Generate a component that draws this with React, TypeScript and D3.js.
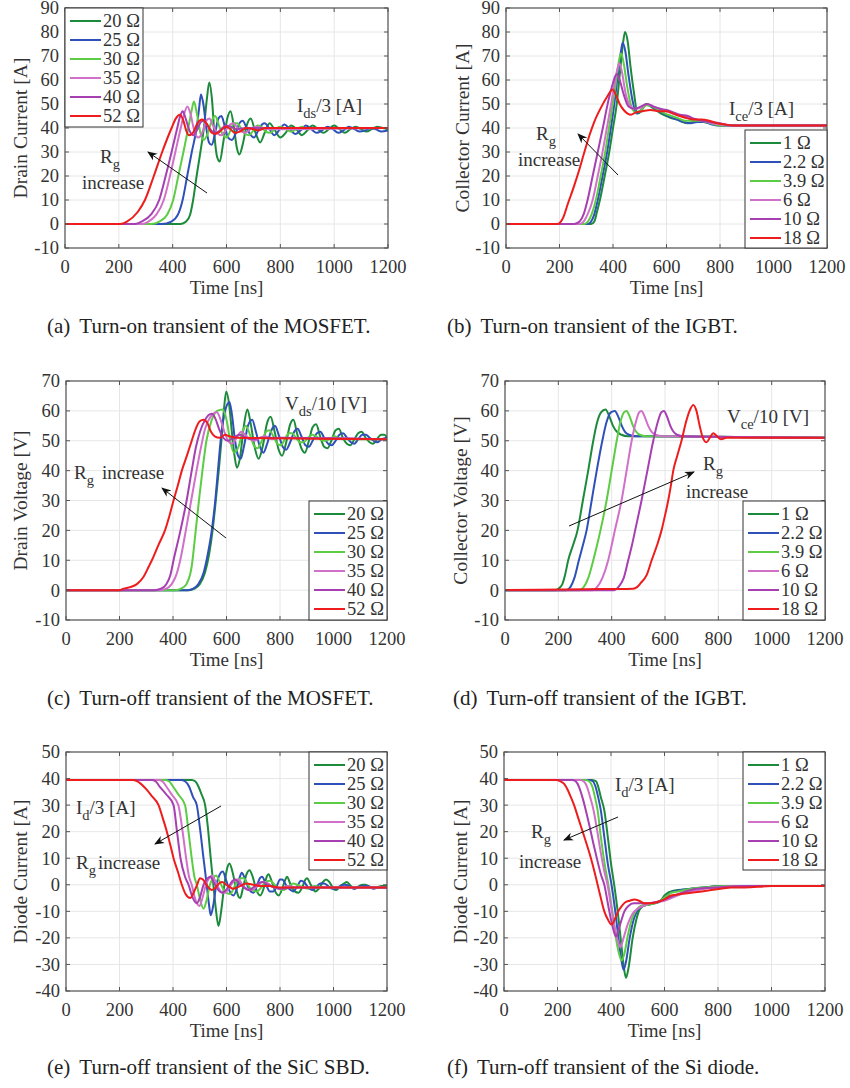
import React from "react";
import * as d3 from "d3";

type Pt = [number, number];

// ---- shared labels / ticks ----
const COLORS = ["#1b8a3a", "#2f50b8", "#5ccc45", "#d070c8", "#a63fb0", "#ee1c1c"];
const mosfetLabels = ["20 Ω", "25 Ω", "30 Ω", "35 Ω", "40 Ω", "52 Ω"];
const igbtLabels = ["1 Ω", "2.2 Ω", "3.9 Ω", "6 Ω", "10 Ω", "18 Ω"];
const timeTicks = [0, 200, 400, 600, 800, 1000, 1200];
const ticksTurnOnCurrent = [-10, 0, 10, 20, 30, 40, 50, 60, 70, 80, 90];
const ticksVoltage = [-10, 0, 10, 20, 30, 40, 50, 60, 70];
const ticksDiode = [-40, -30, -20, -10, 0, 10, 20, 30, 40, 50];

// ---- (a) MOSFET turn-on, Ids/3 ----
const a20: Pt[] = [[0,0],[430,0],[450,1],[465,4],[476,10],[489,20],[503,30],[516,40],[527,52],[536,59],[546,52],[556,36],[565,28],[575,26],[588,34],[603,44],[615,47],[628,40],[638,32],[648,29],[660,33],[675,41],[690,44],[708,38],[725,34],[742,38],[760,42],[780,39],[800,36],[820,38],[840,41],[860,39.5],[880,37],[900,39],[920,41],[940,39.5],[960,38],[980,39.5],[1000,41],[1020,39.5],[1040,38],[1060,39.5],[1080,40.5],[1100,39.5],[1120,38.5],[1140,39.5],[1160,40.5],[1180,40],[1200,39.5]];
const a25: Pt[] = [[0,0],[360,0],[395,1],[420,4],[437,10],[454,20],[471,30],[489,40],[498,48],[505,54],[514,50],[525,40],[535,34],[545,33],[558,38],[570,44],[581,45],[593,41],[606,36],[620,35],[635,38],[648,42],[660,43],[675,40],[690,37],[702,36],[718,39],[732,41.5],[742,42],[760,39.5],[778,37],[795,39],[815,41.5],[835,39.5],[855,37.5],[875,39],[895,41],[915,39.5],[935,38],[955,39],[975,40.5],[995,39.5],[1015,38],[1035,39],[1055,40.5],[1075,39.5],[1095,38.5],[1115,39],[1135,40],[1155,39.5],[1175,38.5],[1200,39]];
const a30: Pt[] = [[0,0],[320,0],[350,1],[380,4],[402,10],[421,20],[440,30],[458,40],[470,47],[479,51],[490,46],[503,38],[515,35],[528,37],[545,43],[558,45],[572,41],[588,37],[600,36],[615,39],[628,42],[640,42],[656,39.5],[670,37.5],[684,37],[700,39],[715,41],[730,40.5],[745,38.5],[762,38],[780,39.5],[800,40.5],[820,39.5],[840,38.5],[860,39.5],[880,40.5],[900,39.5],[1000,40],[1200,40]];
const a35: Pt[] = [[0,0],[285,0],[310,1],[340,4],[367,10],[390,20],[410,30],[430,40],[443,46],[455,49],[466,46],[480,39],[495,36],[510,38],[525,43],[536,44],[550,41],[565,38],[581,37],[600,39.5],[615,41.5],[625,42],[645,39.5],[668,38],[690,39.5],[710,40.5],[730,40],[760,39.5],[1200,40]];
const a40: Pt[] = [[0,0],[260,0],[285,1],[320,4],[350,10],[374,20],[396,30],[417,40],[428,45],[437,47],[448,44],[462,39],[476,37],[492,39.5],[505,42.5],[516,43],[530,41],[548,38.5],[563,38],[580,39.5],[598,41],[615,40.5],[640,39.5],[670,40],[1200,40]];
const a52: Pt[] = [[0,0],[205,0],[230,1],[270,5],[297,10],[330,20],[361,30],[396,40],[412,44],[427,45.5],[440,43],[450,39],[460,37],[475,38],[492,42],[510,43.5],[528,41.5],[545,38],[557,37.5],[575,38.5],[590,40],[600,40.5],[615,39.5],[631,38],[650,38.5],[674,40],[700,39.5],[720,39],[745,40],[800,40],[1200,40]];

// ---- (b) IGBT turn-on, Ice/3 ----
const b1: Pt[] = [[0,0],[318,0],[330,1],[340,5],[351,10],[369,20],[386,30],[400,40],[414,50],[425,62],[437,75],[445,80],[455,76],[465,66],[478,55],[492,46],[505,47],[523,50],[540,49],[560,47.5],[580,46],[600,45],[620,44],[640,43.5],[660,42.5],[680,42],[700,42.5],[720,43],[740,42.5],[760,42],[780,41.5],[800,41],[1200,41]];
const b22: Pt[] = [[0,0],[305,0],[318,1],[330,4],[343,10],[361,20],[378,30],[392,40],[405,50],[418,62],[430,72],[436,75.5],[446,72],[458,62],[472,52],[488,46],[505,47.5],[525,50],[545,49],[565,47.5],[590,46],[615,44.5],[640,43.5],[665,42.5],[690,42],[715,42.5],[740,42.5],[770,41.5],[800,41],[1200,41]];
const b39: Pt[] = [[0,0],[293,0],[306,1],[320,4],[336,10],[354,20],[371,30],[385,40],[399,50],[412,60],[424,69],[430,71],[440,67],[452,58],[466,50],[484,46.5],[505,47.5],[525,49.5],[545,49],[570,47.5],[595,46],[620,45],[645,44],[670,43],[695,43],[720,43],[750,42.5],[780,41.5],[810,41],[1200,41]];
const b6: Pt[] = [[0,0],[274,0],[290,1],[305,4],[324,10],[343,20],[361,30],[377,40],[393,50],[408,60],[420,66],[424,67],[434,63],[446,55],[460,50],[480,48],[505,48.5],[528,50],[550,49],[575,48],[600,47],[625,46],[650,45],[680,44.5],[710,43.5],[740,43],[770,42],[800,41.5],[830,41],[1200,41]];
const b10: Pt[] = [[0,0],[255,0],[275,1],[290,4],[305,10],[324,20],[343,30],[362,40],[380,50],[398,58],[410,62],[415,62.5],[425,60],[440,54],[458,49],[480,48],[505,49],[528,50],[550,49],[575,48],[600,47.5],[625,46.5],[650,45.5],[680,45],[700,44],[730,43],[760,42.5],[800,42],[840,41],[1200,41]];
const b18: Pt[] = [[0,0],[193,0],[205,1],[215,3],[230,8],[255,16],[275,23],[293,30],[312,37],[330,42.6],[355,48.5],[378,53],[399,56],[410,54],[425,50],[440,47.5],[455,46],[467,45.5],[485,46.5],[510,47],[540,47.5],[570,47],[600,47],[625,46],[650,45],[680,44],[700,43.5],[730,43.5],[760,43],[790,42],[820,41.5],[850,41],[1200,41]];

// ---- (c) MOSFET turn-off, Vds/10 ----
const c20: Pt[] = [[0,0],[460,0],[480,0.5],[500,2],[520,6],[535,12],[548,20],[560,30],[571,40],[581,50],[590,60],[599,66.5],[610,62],[620,53],[630,45],[639,41],[650,44],[665,55],[678,60.5],[690,56],[705,48],[720,44],[735,48],[752,56],[765,58],[780,53],[795,47],[808,45],[822,49],[838,55.5],[850,57],[865,52],[880,47.5],[893,46],[908,50],[922,54.5],[935,55.5],[950,51.5],[965,48],[978,47.5],[992,50],[1008,53.5],[1020,54],[1035,51],[1050,49],[1063,48.5],[1078,50.5],[1092,52.5],[1105,53],[1120,51],[1135,49.5],[1148,49],[1162,50.5],[1178,52],[1190,52],[1200,51]];
const c25: Pt[] = [[0,0],[455,0],[475,0.5],[495,2],[515,6],[530,12],[545,20],[558,30],[568,40],[578,50],[590,58],[602,62],[611,63],[620,59],[632,50],[643,45],[653,44],[665,48],[680,55],[696,57],[710,53],[725,48],[738,46],[752,49],[768,53.5],[781,55],[795,52],[810,48],[823,47],[838,49.5],[853,53],[866,54],[880,51.5],[895,48.5],[908,48],[922,50],[938,52.5],[951,53],[965,51],[980,49],[993,48.5],[1008,50],[1022,52],[1036,52.5],[1050,51],[1065,49.5],[1078,49],[1092,50.5],[1108,52],[1121,52],[1135,51],[1150,50],[1163,49.5],[1180,50.5],[1200,51]];
const c30: Pt[] = [[0,0],[410,0],[430,0.5],[450,2],[470,8],[485,20],[497,30],[510,40],[525,50],[545,57],[565,60],[586,60.5],[600,57],[614,50],[628,46],[645,48],[660,53],[672,55],[688,52],[702,48.5],[716,47.5],[732,50],[748,53],[760,53.5],[775,51.5],[790,49],[803,48.5],[818,50.5],[833,52.5],[845,52.5],[860,51],[875,49.5],[888,49.5],[905,51],[920,52],[935,51.5],[950,50.5],[965,50],[985,50.5],[1005,51.5],[1030,50.5],[1200,50.5]];
const c35: Pt[] = [[0,0],[350,0],[375,0.5],[395,2],[412,5],[427,10],[448,20],[468,30],[488,40],[505,48],[520,54],[540,58],[564,59.5],[578,57],[592,53],[606,50],[620,49],[638,51],[655,53],[670,52],[688,50.5],[705,50],[725,51],[745,51.5],[770,50.5],[800,51],[1200,50.5]];
const c40: Pt[] = [[0,0],[330,0],[355,0.5],[375,2],[390,5],[402,10],[428,20],[451,30],[470,40],[486,48],[501,53],[520,57],[545,59],[558,57.5],[572,54],[588,51],[605,50],[625,51],[650,52],[672,51],[700,50.5],[730,51],[1200,50.5]];
const c52: Pt[] = [[0,0],[200,0],[215,0.5],[240,1],[265,2],[290,4.5],[310,8],[321,10],[345,15],[370,20],[387,25],[402,30],[418,35],[433,40],[452,45],[470,50],[485,54],[500,56.5],[514,57],[528,56],[542,53],[556,51.5],[575,51],[595,52],[610,51.5],[640,51],[1200,50.5]];

// ---- (d) IGBT turn-off, Vce/10 ----
const d1: Pt[] = [[0,0],[190,0],[205,0.8],[215,2],[225,5],[237,10],[255,15],[272,20],[292,30],[312,40],[331,50],[345,56],[360,59.5],[377,60.5],[392,58],[405,55],[420,53],[437,52],[460,51.5],[500,51.5],[1200,51]];
const d22: Pt[] = [[0,0],[230,0],[245,1],[260,4],[277,10],[292,15],[306,20],[325,30],[344,40],[365,50],[380,56],[397,59.5],[412,60],[425,58],[438,55],[450,53],[465,52],[490,51.5],[530,51.5],[1200,51]];
const d39: Pt[] = [[0,0],[280,0],[295,1],[312,4],[331,10],[345,15],[358,20],[381,30],[400,40],[419,50],[432,56],[446,59.5],[456,60],[468,58],[480,55],[492,53],[505,52],[530,51.5],[1200,51]];
const d6: Pt[] = [[0,0],[330,0],[345,1],[365,4],[387,10],[400,15],[412,20],[437,30],[456,40],[475,50],[490,56],[503,59.5],[512,60],[524,58],[537,55],[550,53],[565,52],[590,51.5],[1200,51]];
const d10: Pt[] = [[0,0],[410,0],[425,1],[445,4],[462,10],[476,15],[488,20],[512,30],[534,40],[556,50],[572,56],[586,59.5],[596,60],[608,58],[620,55],[632,53],[645,52],[670,51.5],[1200,51]];
const d18: Pt[] = [[0,0],[300,0.3],[480,0.5],[495,1],[510,2.5],[531,5],[550,10],[570,15],[587,20],[600,25],[612,30],[622,35],[631,40],[646,45],[662,50],[678,56],[692,60],[706,62],[718,60],[730,55],[742,51],[756,49.5],[768,51],[781,52.5],[795,51.5],[810,50.5],[830,51],[1200,51]];

// ---- (e) SiC SBD turn-off, Id/3 ----
const e20: Pt[] = [[0,39.5],[470,39.5],[483,39],[495,37],[507,34],[520,30],[530,22],[541,10],[551,0],[560,-9],[570,-15.5],[580,-10],[592,0],[602,6],[611,8],[622,5],[635,-1],[645,-4.5],[651,-5],[662,-1],[675,4],[686,5.5],[698,3],[712,-2],[726,-4],[740,-1],[750,3],[757,4],[770,1],[782,-2.5],[795,-4],[810,-1],[820,2],[826,3],[840,0],[855,-2.5],[869,-3],[885,-0.5],[895,2],[901,2.5],[915,0],[932,-2.5],[945,-1.5],[960,1],[972,2],[985,1],[1000,-1.5],[1010,-2],[1025,-0.5],[1040,0.5],[1050,1],[1065,-0.5],[1080,-1.5],[1095,-0.5],[1110,0],[1120,0],[1140,-1],[1160,-1],[1180,-0.5],[1200,-0.5]];
const e25: Pt[] = [[0,39.5],[430,39.5],[445,39],[460,37],[475,33],[489,30],[500,22],[514,10],[526,0],[534,-7],[541,-11.5],[550,-8],[562,0],[575,4],[586,5],[598,2],[612,-2.5],[626,-4],[640,-1],[650,3],[657,4.5],[670,2],[686,-2],[701,-3],[715,0],[725,2.5],[733,3],[748,0],[762,-2.5],[775,-2.5],[790,0],[800,2],[808,2],[825,-0.5],[840,-2],[850,-2.5],[865,-0.5],[878,1.5],[890,1],[905,-1],[920,-2],[935,-1],[950,0.5],[965,0.5],[980,-0.5],[995,-1.5],[1010,-1.5],[1025,-0.5],[1040,0],[1060,-0.5],[1075,-1.5],[1090,-1],[1110,-0.5],[1130,-0.5],[1150,-1.5],[1170,-1],[1200,-1]];
const e30: Pt[] = [[0,39.5],[370,39.5],[385,39],[400,37],[420,34],[445,30],[458,20],[470,10],[480,3],[489,0],[500,-5],[514,-9],[525,-6],[538,0],[550,2.5],[561,3.5],[575,1],[590,-2],[600,-3],[614,-3.5],[628,-1],[642,1.5],[655,2.5],[664,2.5],[680,0],[695,-2],[714,-2.5],[730,-1],[745,1],[763,1.5],[780,0],[795,-1.5],[813,-2],[830,-1],[848,0.5],[865,0],[885,-1],[905,-1.5],[930,-0.5],[960,-1],[1000,-1],[1200,-1]];
const e35: Pt[] = [[0,39.5],[345,39.5],[360,39],[375,37],[395,34],[420,30],[436,20],[449,10],[460,3],[470,0],[482,-5],[498,-8],[510,-5],[523,0],[535,2.5],[545,3.5],[560,1],[575,-2],[585,-3],[595,-3],[610,-1],[625,1],[635,2],[645,2],[660,0],[675,-1.5],[695,-2],[715,-0.5],[735,1],[755,0.5],[775,-1],[800,-1.5],[830,-0.5],[860,-1],[900,-1],[1200,-1]];
const e40: Pt[] = [[0,39.5],[320,39.5],[335,39],[350,37],[375,34],[402,30],[415,20],[428,10],[445,3],[458,0],[472,-4.5],[489,-7],[500,-5],[514,0],[526,2],[539,3],[552,1],[566,-1.5],[583,-3],[598,-2],[612,0],[623,1.5],[632,2],[648,0.5],[665,-1],[682,-2],[700,-1],[720,0.5],[735,1],[755,0],[780,-1],[810,-1.5],[850,-1],[1200,-1]];
const e52: Pt[] = [[0,39.5],[250,39.5],[265,39],[280,38],[300,36],[320,33.5],[346,30],[362,25],[377,20],[390,15],[402,10],[418,5],[433,0],[447,-3.5],[464,-5],[477,-3],[490,0],[501,2.5],[512,2],[528,-0.5],[545,-2],[560,-1],[572,0.5],[583,1],[600,0],[626,-1.5],[650,-0.5],[675,0.5],[700,0],[730,-0.5],[760,-0.5],[800,-1],[1200,-1]];

// ---- (f) Si diode turn-off, Id/3 ----
const f1: Pt[] = [[0,39.5],[330,39.5],[344,39],[352,37],[362,33],[375,28],[388,18],[400,8],[412,0],[425,-10],[438,-22],[448,-31],[456,-35],[466,-31],[481,-20],[495,-13],[506,-9.5],[520,-8],[540,-7.5],[560,-7],[575,-6.5],[590,-5.5],[600,-4],[612,-3],[625,-2.5],[650,-2],[700,-1.5],[750,-1],[800,-0.5],[900,-0.5],[1200,-0.5]];
const f22: Pt[] = [[0,39.5],[318,39.5],[332,39],[342,37],[352,33],[362,28],[375,18],[388,8],[402,0],[416,-10],[430,-22],[440,-29],[447,-32],[456,-29],[470,-20],[485,-13],[500,-9.5],[515,-8],[540,-7.5],[560,-7],[580,-6.5],[600,-5],[615,-3.5],[630,-2.5],[660,-2],[700,-1.5],[750,-1],[850,-0.5],[1200,-0.5]];
const f39: Pt[] = [[0,39.5],[305,39.5],[318,39],[330,37],[340,33],[350,28],[362,18],[376,8],[390,0],[405,-10],[420,-21],[433,-27],[440,-28.5],[450,-26],[463,-19],[478,-13],[495,-9.5],[512,-8],[540,-7.5],[565,-7],[585,-6],[605,-4.5],[625,-3],[650,-2.5],[700,-1.5],[750,-1],[850,-0.5],[1200,-0.5]];
const f6: Pt[] = [[0,39.5],[285,39.5],[298,39],[310,37],[322,33],[335,28],[349,20],[362,12],[375,5],[387,0],[400,-8],[412,-15],[425,-21],[435,-23.5],[447,-20],[462,-15],[480,-11],[500,-9],[520,-8],[545,-7],[570,-6.5],[600,-6],[625,-5],[650,-4],[675,-3],[700,-2.5],[750,-1.5],[800,-1],[900,-0.5],[1200,-0.5]];
const f10: Pt[] = [[0,39.5],[255,39.5],[268,39],[280,37],[293,33],[306,28],[320,22],[333,16],[347,10],[362,4],[375,0],[390,-8],[402,-14],[412,-18],[419,-19.5],[428,-17],[437,-14],[450,-10],[465,-8],[485,-7],[510,-7],[540,-7],[570,-6.5],[600,-5.5],[625,-4.5],[650,-3.5],[680,-2.5],[720,-1.5],[800,-1],[900,-0.5],[1200,-0.5]];
const f18: Pt[] = [[0,39.5],[195,39.5],[210,39],[225,38],[237,36],[250,33],[262,30],[278,25],[294,20],[310,15],[325,10],[338,5],[350,0],[362,-5],[375,-10],[388,-13],[402,-15],[414,-13],[427,-10],[440,-8],[455,-6.5],[470,-6],[487,-5.5],[505,-6],[525,-7],[545,-7],[575,-6.5],[600,-5.5],[625,-4],[660,-3.5],[700,-3],[740,-2.5],[775,-2],[810,-1.5],[850,-1],[900,-1],[1000,-0.5],[1200,-0.5]];

const FONT = "Liberation Serif, Tinos, Times New Roman, DejaVu Serif, serif";
const TXT = "#333";
const txt = { fontFamily: FONT };

type PanelProps = {
  id: string;
  box: [number, number, number, number]; // x0, y0, x1, y1
  yDomain: [number, number];
  yTicks: number[];
  yLabel: string;
  yLabelX: number;
  series: Pt[][];
  labels: string[];
  legend: [number, number, number, number];
  children?: React.ReactNode;
};

const Panel = ({ id, box, yDomain, yTicks, yLabel, yLabelX, series, labels, legend, children }: PanelProps) => {
  const [x0, y0, x1, y1] = box;
  const x = d3.scaleLinear().domain([0, 1200]).range([x0, x1]);
  const y = d3.scaleLinear().domain(yDomain).range([y1, y0]);
  const line = d3.line<Pt>().x(d => x(d[0])).y(d => y(d[1])).curve(d3.curveMonotoneX);
  const [lx0, ly0, lx1, ly1] = legend;
  return (
    <g>
      <defs>
        <clipPath id={id}>
          <rect x={x0} y={y0} width={x1 - x0} height={y1 - y0} />
        </clipPath>
      </defs>
      <rect x={x0} y={y0} width={x1 - x0} height={y1 - y0} fill="white" />
      {timeTicks.map(t => (
        <line key={"gx" + t} x1={x(t)} x2={x(t)} y1={y0} y2={y1} stroke="#e6e6e6" />
      ))}
      {yTicks.map(v => (
        <line key={"gy" + v} x1={x0} x2={x1} y1={y(v)} y2={y(v)} stroke="#e6e6e6" />
      ))}
      <g clipPath={`url(#${id})`}>
        {series.map((s, i) => (
          <path key={i} d={line(s) || ""} fill="none" stroke={COLORS[i]} strokeWidth={2} strokeLinejoin="round" />
        ))}
      </g>
      <rect x={x0} y={y0} width={x1 - x0} height={y1 - y0} fill="none" stroke="#555" strokeWidth={1.2} />
      {timeTicks.map(t => (
        <g key={"tx" + t}>
          <line x1={x(t)} x2={x(t)} y1={y1} y2={y1 - 4} stroke="#555" />
          <line x1={x(t)} x2={x(t)} y1={y0} y2={y0 + 4} stroke="#555" />
          <text x={x(t)} y={y1 + 25} textAnchor="middle" fontSize={18.5} style={txt} fill={TXT}>{t}</text>
        </g>
      ))}
      {yTicks.map(v => (
        <g key={"ty" + v}>
          <line x1={x0} x2={x0 + 4} y1={y(v)} y2={y(v)} stroke="#555" />
          <line x1={x1} x2={x1 - 4} y1={y(v)} y2={y(v)} stroke="#555" />
          <text x={x0 - 6} y={y(v)} dy="0.35em" textAnchor="end" fontSize={18.5} style={txt} fill={TXT}>{v}</text>
        </g>
      ))}
      <text x={(x0 + x1) / 2} y={y1 + 46} textAnchor="middle" fontSize={19} style={txt} fill={TXT}>Time [ns]</text>
      <text transform={`translate(${yLabelX},${(y0 + y1) / 2}) rotate(-90)`} dy="0.35em" textAnchor="middle" fontSize={19.5} style={txt} fill={TXT}>{yLabel}</text>
      <rect x={lx0} y={ly0} width={lx1 - lx0} height={ly1 - ly0} fill="white" stroke="#333" strokeWidth={1} />
      {labels.map((l, i) => {
        const ry = ly0 + 13 + i * 19;
        return (
          <g key={l}>
            <line x1={lx0 + 5} x2={lx0 + 36} y1={ry} y2={ry} stroke={COLORS[i]} strokeWidth={2} />
            <text x={lx0 + 38} y={ry} dy="0.35em" fontSize={18.5} style={txt} fill={TXT}>{l}</text>
          </g>
        );
      })}
      {children}
    </g>
  );
};

const Sub = ({ x, y, main, sub, rest }: { x: number; y: number; main: string; sub: string; rest?: string }) => (
  <text x={x} y={y} fontSize={19} style={txt} fill={TXT}>
    {main}
    <tspan fontSize={14.5} dy={6}>{sub}</tspan>
    {rest ? <tspan dy={-6}>{rest}</tspan> : null}
  </text>
);

const Label = ({ x, y, t }: { x: number; y: number; t: string }) => (
  <text x={x} y={y} fontSize={19} style={txt} fill={TXT}>{t}</text>
);

const Arrow = ({ x1, y1, x2, y2 }: { x1: number; y1: number; x2: number; y2: number }) => (
  <line x1={x1} y1={y1} x2={x2} y2={y2} stroke="#111" strokeWidth={1} markerEnd="url(#arrowHead)" />
);

const Caption = ({ x, y, tag, text }: { x: number; y: number; tag: string; text: string }) => (
  <text x={x} y={y} fontSize={21} style={txt} fill="#222">
    {tag}
    <tspan dx={9}>{text}</tspan>
  </text>
);

export default function App() {
  return (
    <svg width={850} height={1088} style={{ position: "absolute", left: 0, top: 0, background: "white" }}>
      <defs>
        <marker id="arrowHead" viewBox="0 0 10 10" refX={9} refY={5} markerWidth={10} markerHeight={10} markerUnits="userSpaceOnUse" orient="auto">
          <path d="M0,1 L10,5 L0,9 L3,5 Z" fill="#111" />
        </marker>
      </defs>

      <Panel id="pa" box={[65, 8, 388, 248]} yDomain={[-10, 90]} yTicks={ticksTurnOnCurrent} yLabel="Drain Current [A]" yLabelX={20}
        series={[a20, a25, a30, a35, a40, a52]} labels={mosfetLabels} legend={[65, 8, 143, 127]}>
        <Sub x={297} y={112} main="I" sub="ds" rest="/3 [A]" />
        <Sub x={100} y={163} main="R" sub="g" />
        <Label x={82} y={189} t="increase" />
        <Arrow x1={207} y1={193} x2={148} y2={152} />
      </Panel>

      <Panel id="pb" box={[506, 8, 827, 248]} yDomain={[-10, 90]} yTicks={ticksTurnOnCurrent} yLabel="Collector Current [A]" yLabelX={462}
        series={[b1, b22, b39, b6, b10, b18]} labels={igbtLabels} legend={[745, 130, 827, 248]}>
        <Sub x={729} y={115} main="I" sub="ce" rest="/3 [A]" />
        <Sub x={536} y={140} main="R" sub="g" />
        <Label x={518} y={166} t="increase" />
        <Arrow x1={618} y1={175} x2={578} y2={134} />
      </Panel>

      <Panel id="pc" box={[66, 381, 387, 620]} yDomain={[-10, 70]} yTicks={ticksVoltage} yLabel="Drain Voltage [V]" yLabelX={20}
        series={[c20, c25, c30, c35, c40, c52]} labels={mosfetLabels} legend={[309, 501, 387, 620]}>
        <Sub x={285} y={410} main="V" sub="ds" rest="/10 [V]" />
        <Sub x={74} y={479} main="R" sub="g" />
        <Label x={102} y={479} t="increase" />
        <Arrow x1={226} y1={538} x2={162} y2={488} />
      </Panel>

      <Panel id="pd" box={[505, 381, 825, 620]} yDomain={[-10, 70]} yTicks={ticksVoltage} yLabel="Collector Voltage [V]" yLabelX={460}
        series={[d1, d22, d39, d6, d10, d18]} labels={igbtLabels} legend={[743, 501, 825, 620]}>
        <Sub x={727} y={423} main="V" sub="ce" rest="/10 [V]" />
        <Sub x={703} y={470} main="R" sub="g" />
        <Label x={686} y={498} t="increase" />
        <Arrow x1={569} y1={526} x2={694} y2={472} />
      </Panel>

      <Panel id="pe" box={[66, 752, 387, 991]} yDomain={[-40, 50]} yTicks={ticksDiode} yLabel="Diode Current [A]" yLabelX={20}
        series={[e20, e25, e30, e35, e40, e52]} labels={mosfetLabels} legend={[309, 752, 387, 870]}>
        <Sub x={76} y={814} main="I" sub="d" rest="/3 [A]" />
        <Sub x={76} y={869} main="R" sub="g" />
        <Label x={98} y={869} t="increase" />
        <Arrow x1={221} y1={806} x2={155} y2={844} />
      </Panel>

      <Panel id="pf" box={[504, 752, 825, 991]} yDomain={[-40, 50]} yTicks={ticksDiode} yLabel="Diode Current [A]" yLabelX={460}
        series={[f1, f22, f39, f6, f10, f18]} labels={igbtLabels} legend={[743, 752, 825, 870]}>
        <Sub x={615} y={791} main="I" sub="d" rest="/3 [A]" />
        <Sub x={531} y={838} main="R" sub="g" />
        <Label x={519} y={868} t="increase" />
        <Arrow x1={618} y1={817} x2={564} y2={840} />
      </Panel>

      <Caption x={47} y={333} tag="(a)" text="Turn-on transient of the MOSFET." />
      <Caption x={447} y={333} tag="(b)" text="Turn-on transient of the IGBT." />
      <Caption x={47} y={705} tag="(c)" text="Turn-off transient of the MOSFET." />
      <Caption x={453} y={705} tag="(d)" text="Turn-off transient of the IGBT." />
      <Caption x={47} y={1074} tag="(e)" text="Turn-off transient of the SiC SBD." />
      <Caption x={447} y={1074} tag="(f)" text="Turn-off transient of the Si diode." />
    </svg>
  );
}
